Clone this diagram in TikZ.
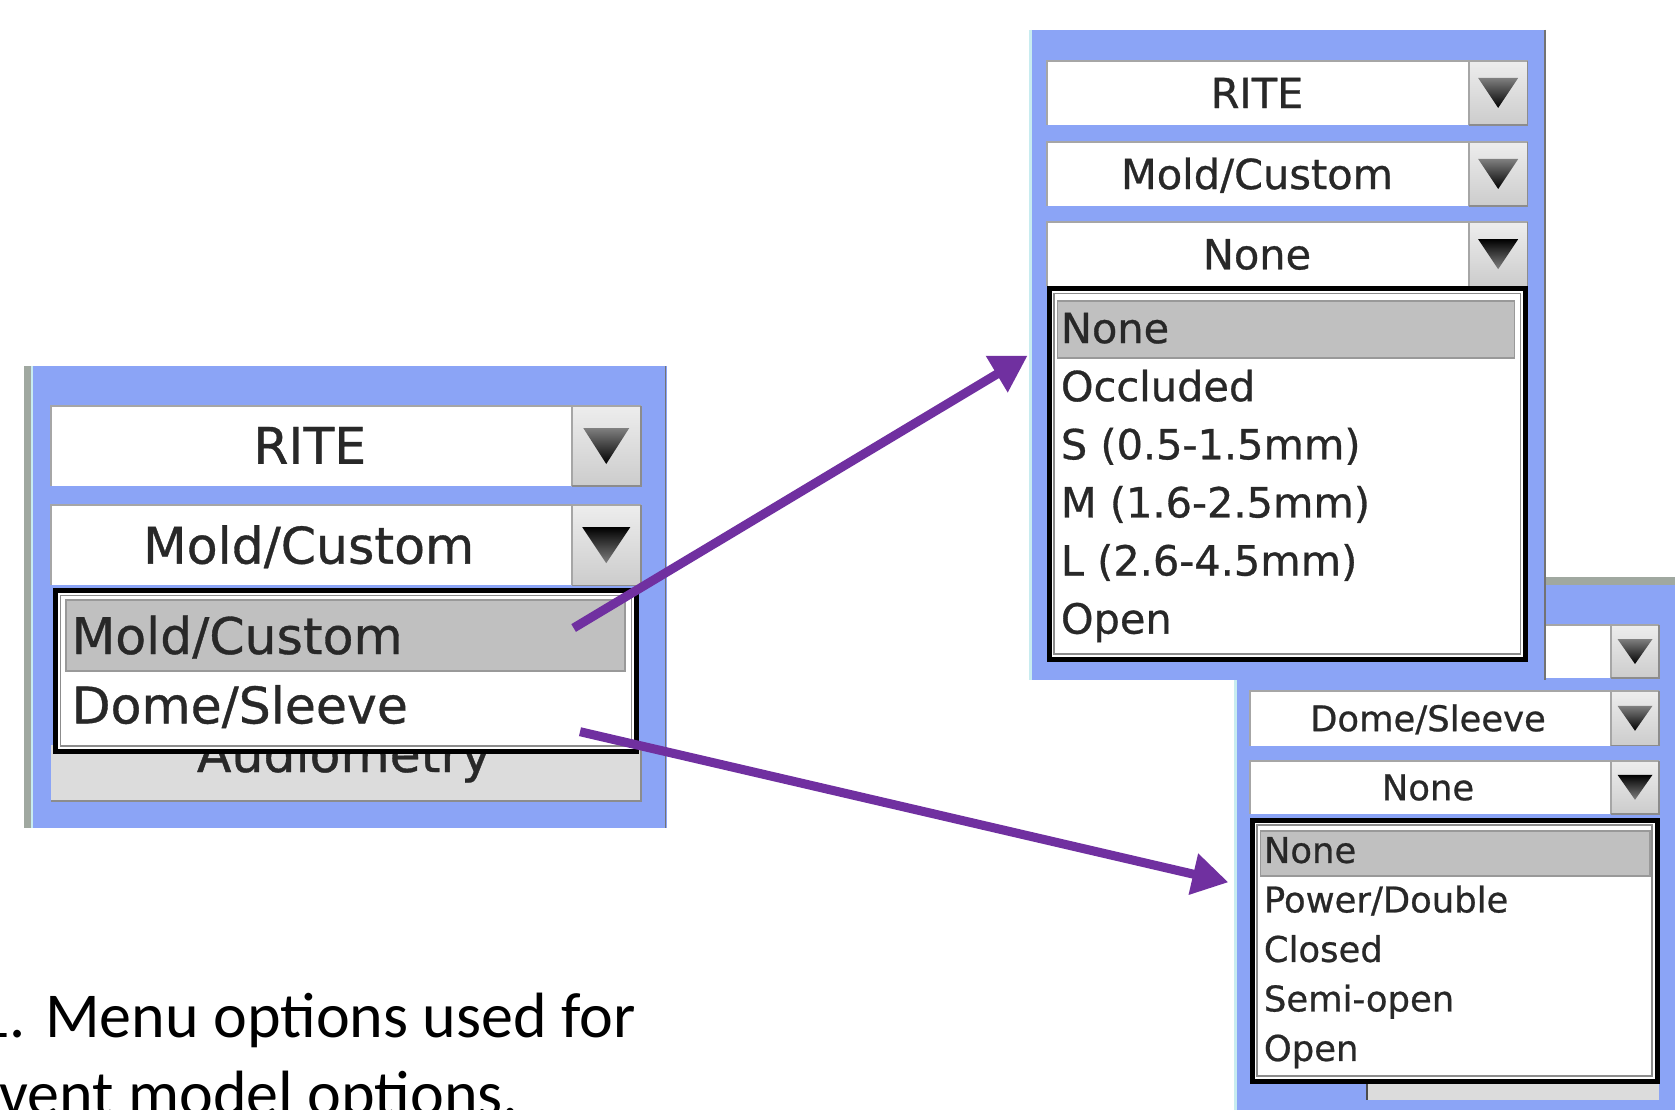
\documentclass[tikz,border=0pt]{standalone}
\usepackage{fontspec}
\setmainfont{DejaVu Sans}[FakeBold=0.7]
\newfontfamily\capfont{Carlito}
\usetikzlibrary{arrows.meta,calc}
\definecolor{panelblue}{RGB}{139,164,246}
\definecolor{arrowpurple}{RGB}{112,48,160}
\definecolor{edgegray}{RGB}{160,168,160}
\definecolor{hilite}{RGB}{192,192,192}
\definecolor{txtdark}{RGB}{40,40,40}
\definecolor{edgecyan}{RGB}{200,236,240}
\definecolor{audiogray}{RGB}{220,220,220}
\newcommand\guiL{\fontsize{50.5}{60}\selectfont}
\newcommand\guiT{\fontsize{41.5}{50}\selectfont}
\newcommand\guiB{\fontsize{35.4}{42}\selectfont}
\newcommand\capsize{\fontsize{64}{78}\selectfont}
% combo box: x1, y1, x2, y2, x of button, triangle width, triangle height, triangle style
\newcommand\mycombo[8]{%
  \fill[white] (#1,#2) rectangle (#5,#4);
  \draw[fieldline] (#1,#4) -- (#1,#2) -- (#5,#2);
  \shade[top color=white!93!black, bottom color=white!80!black] (#5,#2) rectangle (#3,#4);
  \draw[fieldline] (#5,#4) -- (#5,#2) -- (#3,#2);
  \draw[btnline] (#5,#4) -- (#3,#4) -- (#3,#2);
  \coordinate (tc) at ($(#5,#2)!0.5!(#3,#4)$);
  \shade[#8] ($(tc)+(-#6/2,-#7/2)$) -- ++(#6,0) -- ($(tc)+(0,#7/2)$) -- cycle;
}
\tikzset{
  fieldline/.style={draw=black!35, line width=2pt},
  btnline/.style={draw=black!45, line width=1.5pt},
  triclosed/.style={top color=black!50, bottom color=black},
  triopen/.style={top color=black, bottom color=black!50},
  lbl/.style={inner sep=0pt, text=txtdark},
  listbox/.style={fill=white, draw=black, line width=5pt},
  hibox/.style={fill=hilite, draw=black!40, line width=1.5pt},
  conn/.style={draw=arrowpurple, line width=9pt, -{Triangle[length=36pt,width=40pt]}},
  capt/.style={inner sep=0pt, text=black, font=\capfont\capsize},
}
\begin{document}
\begin{tikzpicture}[x=1pt,y=-1pt]
\useasboundingbox (0,0) rectangle (1675,1110);
\clip (0,0) rectangle (1675,1110);
\fill[white] (0,0) rectangle (1675,1110);

% ---------- bottom-right panel (behind) ----------
\fill[panelblue] (1233.8,577) rectangle (1675,1110);
\fill[edgegray] (1233.8,577) rectangle (1675,585);
\draw[edgecyan, line width=3pt] (1235.5,585) -- (1235.5,1110);
\mycombo{1480}{625}{1659}{678}{1611}{35}{25}{triclosed}
\mycombo{1250}{691}{1659}{745.6}{1611}{35}{25}{triclosed}
\mycombo{1250}{760.6}{1659}{814}{1611}{35}{25}{triopen}
\fill[audiogray] (1367,1081) rectangle (1659,1100);
\draw[black!70, line width=2pt] (1367,1081) -- (1367,1100);
\node[lbl, font=\guiB, anchor=base] (bDome) at (1428,731.2) {Dome/Sleeve};
\node[lbl, font=\guiB, anchor=base] (bNone) at (1428,800.2) {None};
\draw[listbox] (1252,820) rectangle (1657,1081);
\draw[black!45, line width=1.2pt] (1257,825) rectangle (1652,1076);
\draw[hibox] (1260.5,831) rectangle (1650,876);
\node[lbl, font=\guiB, anchor=base west] (b1) at (1263.7,862.9) {None};
\node[lbl, font=\guiB, anchor=base west] (b2) at (1263.7,912.4) {Power/Double};
\node[lbl, font=\guiB, anchor=base west] (b3) at (1263.7,961.9) {Closed};
\node[lbl, font=\guiB, anchor=base west] (b4) at (1263.7,1011.4) {Semi-open};
\node[lbl, font=\guiB, anchor=base west] (b5) at (1263.7,1060.9) {Open};

% ---------- top-right panel ----------
\fill[panelblue] (1028.7,29.9) rectangle (1545.7,680.4);
\draw[edgecyan, line width=3pt] (1030.2,29.9) -- (1030.2,680.4);
\draw[black!55, line width=1.5pt] (1545,29.9) -- (1545,680.4);
\mycombo{1046.8}{60.9}{1527.5}{125}{1468.8}{40}{30}{triclosed}
\mycombo{1046.8}{142}{1527.5}{206}{1468.8}{40}{30}{triclosed}
\mycombo{1046.8}{222}{1527.5}{286.3}{1468.8}{40}{30}{triopen}
\node[lbl, font=\guiT, anchor=base] (tRite) at (1257,108.1) {RITE};
\node[lbl, font=\guiT, anchor=base] (tMold) at (1257,189.1) {Mold/Custom};
\node[lbl, font=\guiT, anchor=base] (tNone) at (1257,269.3) {None};
\draw[listbox] (1049,288.4) rectangle (1525.4,659);
\draw[black!45, line width=1.2pt] (1054,293.4) rectangle (1520.4,654);
\draw[hibox] (1057.5,301) rectangle (1514.7,358);
\node[lbl, font=\guiT, anchor=base west] (t1) at (1060.7,343.1) {None};
\node[lbl, font=\guiT, anchor=base west] (t2) at (1060.7,401.2) {Occluded};
\node[lbl, font=\guiT, anchor=base west] (t3) at (1060.7,459.3) {S (0.5-1.5mm)};
\node[lbl, font=\guiT, anchor=base west] (t4) at (1060.7,517.4) {M (1.6-2.5mm)};
\node[lbl, font=\guiT, anchor=base west] (t5) at (1060.7,575.5) {L (2.6-4.5mm)};
\node[lbl, font=\guiT, anchor=base west] (t6) at (1060.7,633.6) {Open};

% ---------- left panel ----------
\fill[panelblue] (23.5,366.4) rectangle (666.5,827.9);
\fill[edgegray] (23.5,366.4) rectangle (31,827.9);
\draw[edgecyan, line width=2pt] (32,366.4) -- (32,827.9);
\draw[black!55, line width=1.5pt] (665.5,366.4) -- (665.5,827.9);
\mycombo{51.3}{406}{641}{486}{571.5}{46}{36}{triclosed}
\mycombo{51.3}{505}{641}{585.4}{571.5}{48}{36}{triopen}
\node[lbl, font=\guiL, anchor=base] (lRite) at (309.8,463.8) {RITE};
\node[lbl, font=\guiL, anchor=base] (lMold) at (308.7,563.6) {Mold/Custom};
\fill[audiogray] (51.3,745) rectangle (641,801);
\draw[black!45, line width=2pt] (51.3,801) -- (641,801) -- (641,745);
\node[lbl, font=\guiL, anchor=base] (lAudio) at (344,772) {Audiometry};
\draw[listbox] (55.5,590.7) rectangle (636.6,751);
\draw[black!45, line width=1.2pt] (60.5,595.7) rectangle (631.6,746);
\draw[hibox] (66,600) rectangle (625,671);
\node[lbl, font=\guiL, anchor=base west] (l1) at (71.5,654) {Mold/Custom};
\node[lbl, font=\guiL, anchor=base west] (l2) at (71.5,723.4) {Dome/Sleeve};

% ---------- connectors ----------
\coordinate (a1s) at (573.6,628);
\coordinate (a1e) at (1027.6,355.7);
\coordinate (a2s) at (580,731.7);
\coordinate (a2e) at (1228.4,882.3);
\draw[conn] (a1s) -- (a1e);
\draw[conn] (a2s) -- (a2e);

% ---------- caption ----------
\node[capt, anchor=base west] (cap1) at (-23,1037) {1. Menu options used for};
\node[capt, anchor=base west] (cap2) at (-1,1115) {vent model options.};
\end{tikzpicture}
\end{document}
